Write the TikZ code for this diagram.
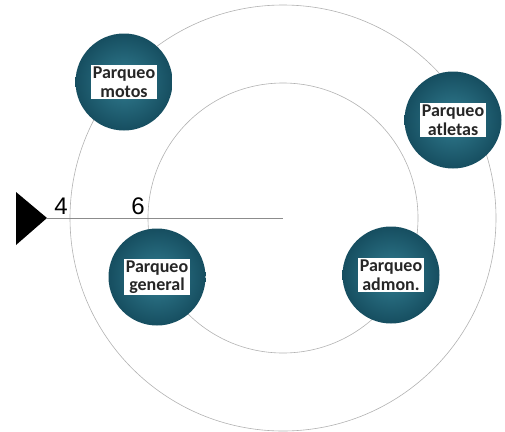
\documentclass[tikz,border=0pt]{standalone}
\usepackage{fontspec}
\setmainfont{Carlito}
\newfontfamily\arialf{Liberation Sans}
\begin{document}
\begin{tikzpicture}[x=1pt,y=-1pt,
  ring/.style={draw=black!30, line width=0.6pt},
  park/.style={circle, minimum size=97pt, inner sep=0pt, draw=none,
    inner color={rgb,255:red,50;green,125;blue,145}, outer color={rgb,255:red,22;green,78;blue,96}},
  lab/.style={fill=white, inner sep=1.5pt, align=center, font=\fontsize{18}{18.5}\selectfont\bfseries, text=black!85},
  num/.style={font=\arialf\fontsize{24}{24}\selectfont, inner sep=0pt}
]
\useasboundingbox (0,0) rectangle (505,431);
\coordinate (c) at (283,218);
\draw[ring] (c) circle (213);
\draw[ring] (c) circle (135);
\coordinate (tip) at (47,218);
\draw[black!45, line width=0.6pt] (tip) -- (c);
\fill[black] (16,192) -- (tip) -- (16,245) -- cycle;
\node[num] (n4) at (61,206) {4};
\node[num] (n6) at (138,206) {6};
\node[park] (m) at (124,82) {};
\node[lab] at (m) {Parqueo\\motos};
\node[park] (a) at (453,120) {};
\node[lab] at (a) {Parqueo\\atletas};
\node[park] (g) at (157,277) {};
\node[lab] at (g) {Parqueo\\general};
\node[park] (d) at (391,275) {};
\node[lab] at (d) {Parqueo\\admon.};
\end{tikzpicture}
\end{document}
